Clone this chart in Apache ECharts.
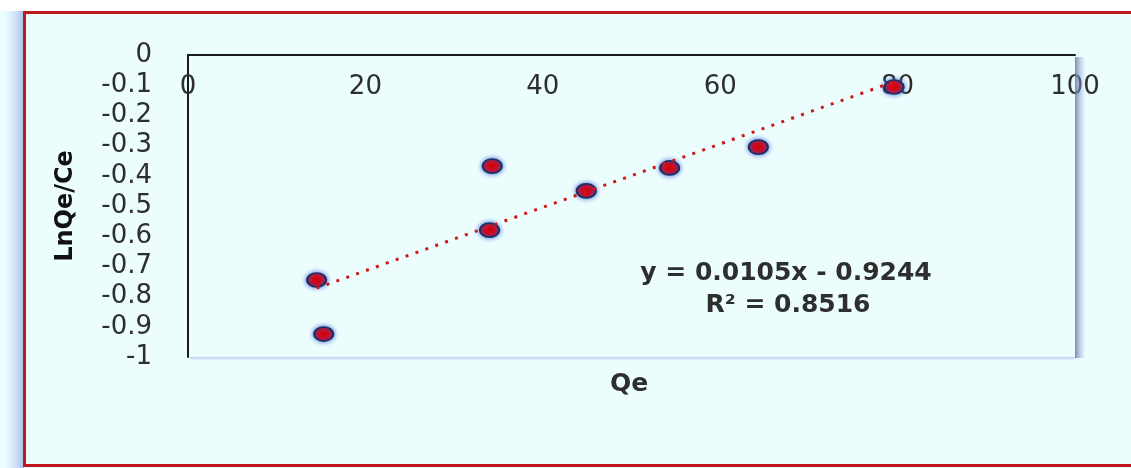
<!DOCTYPE html>
<html>
<head>
<meta charset="utf-8">
<script src="https://cdn.jsdelivr.net/npm/echarts@6/dist/echarts.min.js"></script>
<style>
html,body{margin:0;padding:0;background:#ffffff;}
#chart{width:1131px;height:468px;}
</style>
</head>
<body>
<div id="chart"></div>
<script>
// Data
const qe = [14.5, 15.3, 34.3, 34.0, 44.9, 54.3, 64.3, 79.6];
const lnQeCe = [-0.745, -0.924, -0.368, -0.58, -0.45, -0.374, -0.305, -0.106];
const trendCoef = [0.0105, -0.9244]; // slope, intercept shown on chart
const r2 = ['0.8516'];
const xTicks = [0, 20, 40, 60, 80, 100];
const yTicks = [0, -0.1, -0.2, -0.3, -0.4, -0.5, -0.6, -0.7, -0.8, -0.9, -1];
const xName = 'Qe';
const yName = 'LnQe/Ce';

const points = qe.map((x, i) => [x, lnQeCe[i]]);
const xMin = Math.min(...qe), xMax = Math.max(...qe);
const trend = [xMin, xMax].map(x => [x, trendCoef[0] * x + trendCoef[1]]);
const eqText = 'y = ' + trendCoef[0] + 'x - ' + Math.abs(trendCoef[1]);

const font = 'DejaVu Sans';
const chart = echarts.init(document.getElementById('chart'), null, {renderer: 'canvas'});
chart.setOption({
  backgroundColor: '#ecfdfd',
  animation: false,
  textStyle: {fontFamily: font},
  grid: {left: 188, top: 55, right: 56, bottom: 111, containLabel: false},
  xAxis: {
    type: 'value', position: 'top', min: xTicks[0], max: xTicks[xTicks.length - 1], interval: 20,
    axisLine: {show: true, onZero: false, lineStyle: {color: '#1a1a1a', width: 2}},
    axisTick: {show: false}, splitLine: {show: false},
    axisLabel: {inside: true, margin: 19, color: '#2e2e2e', fontSize: 26, fontFamily: font}
  },
  yAxis: {
    type: 'value', min: yTicks[yTicks.length - 1], max: yTicks[0], interval: 0.1,
    axisLine: {show: true, onZero: false, lineStyle: {color: '#1a1a1a', width: 2}},
    axisTick: {show: false}, splitLine: {show: false},
    axisLabel: {margin: 36, color: '#2e2e2e', fontSize: 26, fontFamily: font,
      formatter: v => String(parseFloat(v.toFixed(1)))},
    name: yName, nameLocation: 'middle', nameGap: 110, nameRotate: 90,
    nameTextStyle: {fontSize: 24, fontWeight: 'bold', color: '#111111', fontFamily: font}
  },
  graphic: [
    {type: 'rect', z: -10, silent: true, shape: {x: 0, y: 0, width: 1131, height: 11}, style: {fill: '#ffffff'}},
    {type: 'rect', z: -10, silent: true, shape: {x: 4, y: 11, width: 20, height: 457},
      style: {fill: new echarts.graphic.LinearGradient(0, 0, 1, 0, [
        {offset: 0, color: 'rgba(200,220,250,0)'}, {offset: 1, color: 'rgba(160,185,235,0.9)'}])}},
    {type: 'rect', z: 1, silent: true, shape: {x: 1075, y: 57, width: 10, height: 301},
      style: {fill: new echarts.graphic.LinearGradient(0, 0, 1, 0, [
        {offset: 0, color: 'rgba(100,120,165,0.85)'}, {offset: 1, color: 'rgba(170,190,230,0.1)'}])}},
    {type: 'rect', z: 1, silent: true, shape: {x: 190, y: 357, width: 885, height: 4},
      style: {fill: new echarts.graphic.LinearGradient(0, 0, 0, 1, [
        {offset: 0, color: 'rgba(170,195,245,0.8)'}, {offset: 1, color: 'rgba(200,220,250,0)'}])}},
    {type: 'rect', z: 100, silent: true, shape: {x: 24.5, y: 12.5, width: 1120, height: 453},
      style: {fill: 'none', stroke: '#c0161e', lineWidth: 3}},
    {type: 'text', z: 50, silent: true,
      style: {text: xName, x: 629, y: 384, align: 'center', verticalAlign: 'middle',
        font: 'bold 25px "DejaVu Sans"', fill: '#2e2e2e'}},
    {type: 'text', z: 50, silent: true,
      style: {text: eqText, x: 786, y: 273, align: 'center', verticalAlign: 'middle',
        font: 'bold 25px "DejaVu Sans"', fill: '#2e2e2e'}},
    {type: 'text', z: 50, silent: true,
      style: {text: 'R² = ' + r2[0], x: 788, y: 305, align: 'center', verticalAlign: 'middle',
        font: 'bold 25px "DejaVu Sans"', fill: '#2e2e2e'}}
  ],
  series: [
    {
      type: 'scatter', data: points, z: 3,
      symbol: 'circle', symbolSize: [19, 14],
      itemStyle: {
        color: '#d8000c',
        borderColor: '#1f2f6a', borderWidth: 2,
        shadowBlur: 5, shadowColor: 'rgba(60,110,220,0.9)',
        opacity: 1
      }
    },
    {
      type: 'line', data: trend, z: 4, symbol: 'none', silent: true,
      lineStyle: {color: '#cc1a1a', width: 3, type: [3, 7.5]}
    }
  ]
});
</script>
</body>
</html>
